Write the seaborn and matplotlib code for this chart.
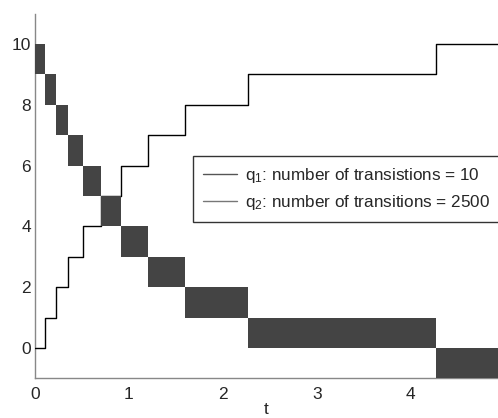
import numpy as np
import pandas as pd
import matplotlib
matplotlib.use("Agg")
import matplotlib.pyplot as plt
import seaborn as sns
from matplotlib.lines import Line2D

# ---------------------------------------------------
# DATA
# ---------------------------------------------------

# switching times shared by q1 and the chattering bands of q2
switch_times = [0.0, 0.107, 0.22, 0.355, 0.51, 0.70, 0.915, 1.20, 1.60, 2.27, 4.27, 4.93]

# q1: one step up at each switching time
q1_levels = [0, 1, 2, 3, 4, 5, 6, 7, 8, 9, 10, 10]

# q2: chatters between band_low and band_low + 1 in each interval
band_low = [9, 8, 7, 6, 5, 4, 3, 2, 1, 0, -1]

legend_labels = [
    r"q$_1$: number of transistions = 10",
    r"q$_2$: number of transitions = 2500",
]

# ---------------------------------------------------
# STYLE
# ---------------------------------------------------

sns.set_style("white")
plt.rcParams["font.family"] = ["Liberation Sans", "DejaVu Sans"]
plt.rcParams["mathtext.fontset"] = "custom"
plt.rcParams["mathtext.rm"] = "Liberation Sans"
plt.rcParams["mathtext.it"] = "Liberation Sans"
plt.rcParams["mathtext.default"] = "regular"

fig = plt.figure(figsize=(4.98, 4.18), dpi=100)
ax = fig.add_axes([0.0703, 0.0947, 0.9297, 0.8728])

# ---------------------------------------------------
# q2 BANDS
# ---------------------------------------------------

left = switch_times[:-1]
widths = np.diff(switch_times)

ax.bar(
    left,
    [1] * len(band_low),
    width=widths,
    bottom=band_low,
    align="edge",
    color="#444444",
    linewidth=0,
    zorder=4,
)

# ---------------------------------------------------
# q1 STEP LINE
# ---------------------------------------------------

q1_df = pd.DataFrame({"t": switch_times, "q": q1_levels})

sns.lineplot(
    data=q1_df,
    x="t",
    y="q",
    drawstyle="steps-post",
    color="black",
    linewidth=1.0,
    estimator=None,
    sort=False,
    ax=ax,
    zorder=3,
)

# ---------------------------------------------------
# AXES
# ---------------------------------------------------

ax.set_xlim(0, 4.93)
ax.set_ylim(-1, 11)
ax.set_xticks([0, 1, 2, 3, 4])
ax.set_yticks([0, 2, 4, 6, 8, 10])
ax.set_xlabel("t", fontsize=12.5, color="#262626", labelpad=0)
ax.set_ylabel("")

for side in ["top", "right"]:
    ax.spines[side].set_visible(False)
for side in ["left", "bottom"]:
    ax.spines[side].set_color("#888888")
    ax.spines[side].set_linewidth(1.0)

ax.tick_params(
    direction="in",
    length=4,
    width=1,
    color="#888888",
    labelcolor="#262626",
    labelsize=12.5,
)
ax.tick_params(axis="y", pad=3)
ax.tick_params(axis="x", pad=6)

# ---------------------------------------------------
# LEGEND
# ---------------------------------------------------

handles = [
    Line2D([0], [0], color="#555555", linewidth=1.0),
    Line2D([0], [0], color="#777777", linewidth=1.0),
]

leg = ax.legend(
    handles,
    legend_labels,
    loc="upper left",
    bbox_to_anchor=(0.341, 0.61),
    fontsize=12.3,
    frameon=True,
    fancybox=False,
    handlelength=2.0,
    handletextpad=0.45,
    borderpad=0.6,
    labelspacing=0.45,
    borderaxespad=0,
)
leg.get_frame().set_edgecolor("black")
leg.get_frame().set_linewidth(1.0)
leg.set_zorder(5)

fig.savefig("out.png", dpi=100)
